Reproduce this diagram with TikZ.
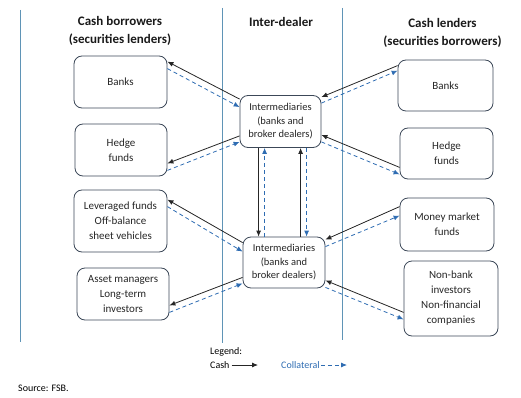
\documentclass[tikz,border=0pt]{standalone}
\usepackage{fontspec}
\setmainfont{Carlito}
\usepackage{xcolor}
\usepackage{tikz}
\usetikzlibrary{arrows.meta}

\definecolor{boxline}{RGB}{60,72,88}
\definecolor{divider}{RGB}{95,148,182}
\definecolor{collat}{RGB}{46,108,178}

\begin{document}
\begin{tikzpicture}[x=1pt,y=-1pt,>={Latex[length=6pt,width=5pt]},
 party/.style={draw=boxline,line width=0.8pt,rounded corners=8pt,align=center,text=black!85,font=\fontsize{11}{15}\selectfont},
 dealer/.style={party,minimum width=81pt,minimum height=52pt,font=\fontsize{10.5}{13.5}\selectfont},
 head/.style={align=center,text=black!90,font=\fontsize{13}{18}\selectfont\bfseries},
 cash/.style={->,black!85,line width=0.8pt},
 collateral/.style={->,collat,line width=0.8pt,dash pattern=on 4pt off 3pt}]
 \useasboundingbox (0,0) rectangle (521,398);

 \draw[divider,line width=0.6pt] (20,10) -- (20,342) (222,8) -- (222,343) (342,8) -- (342,340);

 \node[head] (hborrow) at (120,31) {Cash borrowers\\(securities lenders)};
 \node[head] (hdealer) at (281,22) {Inter-dealer};
 \node[head] (hlend) at (442.5,33) {Cash lenders\\(securities borrowers)};

 \node[party,minimum width=93pt,minimum height=52pt] (lbanks) at (120.5,82) {Banks};
 \node[party,minimum width=92pt,minimum height=52pt] (lhedge) at (121,150) {Hedge\\funds};
 \node[party,minimum width=93pt,minimum height=62pt] (llev) at (120.5,221) {Leveraged funds\\Off-balance\\sheet vehicles};
 \node[party,minimum width=92pt,minimum height=52pt] (lasset) at (123,294) {Asset managers\\Long-term\\investors};

 \node[party,minimum width=95pt,minimum height=51pt] (rbanks) at (445.5,85.5) {Banks};
 \node[party,minimum width=93pt,minimum height=51pt] (rhedge) at (446.5,153.5) {Hedge\\funds};
 \node[party,minimum width=94pt,minimum height=53pt] (rmmf) at (447,224.5) {Money market\\funds};
 \node[party,minimum width=94pt,minimum height=75pt] (rnonbank) at (451,298.5) {Non-bank\\investors\\Non-financial\\companies};

 \node[dealer] (itop) at (280.5,121.5) {Intermediaries\\(banks and\\broker dealers)};
 \node[dealer,minimum width=82pt,minimum height=51pt] (ibot) at (284,262.5) {Intermediaries\\(banks and\\broker dealers)};

 \draw[cash] ([yshift=-4pt]itop.north west) -- ([yshift=-6pt]lbanks.north east);
 \draw[collateral] ([yshift=-13pt]lbanks.north east) -- ([yshift=-12pt]itop.north west);
 \draw[cash] ([yshift=12pt]itop.south west) -- ([yshift=13pt]lhedge.south east);
 \draw[collateral] ([yshift=6pt]lhedge.south east) -- ([yshift=6pt]itop.south west);
 \draw[cash] ([yshift=-6pt]rbanks.north west) -- ([yshift=-2pt]itop.north east);
 \draw[collateral] ([yshift=-8pt]itop.north east) -- ([yshift=-11pt]rbanks.north west);
 \draw[cash] ([yshift=12pt]rhedge.south west) -- ([yshift=13pt]itop.south east);
 \draw[collateral] ([yshift=6pt]itop.south east) -- ([yshift=5pt]rhedge.south west);

 \draw[cash] ([yshift=-6pt]ibot.north west) -- ([yshift=-10pt]llev.north east);
 \draw[collateral] ([yshift=-17pt]llev.north east) -- ([yshift=-15pt]ibot.north west);
 \draw[cash] ([yshift=11pt]ibot.south west) -- ([yshift=15pt]lasset.south east);
 \draw[collateral] ([yshift=8pt]lasset.south east) -- ([yshift=5pt]ibot.south west);
 \draw[cash] ([yshift=-9pt]rmmf.north west) -- ([yshift=-3pt]ibot.north east);
 \draw[collateral] ([yshift=-10pt]ibot.north east) -- ([yshift=-18pt]rmmf.north west);
 \draw[cash] ([yshift=24pt]rnonbank.south west) -- ([yshift=8pt]ibot.south east);
 \draw[collateral] ([yshift=1pt]ibot.south east) -- ([yshift=17pt]rnonbank.south west);

 \draw[cash] ([xshift=19pt]itop.south west) -- ([xshift=16pt]ibot.north west);
 \draw[collateral] ([xshift=22pt]ibot.north west) -- ([xshift=25pt]itop.south west);
 \draw[cash] ([xshift=58pt]ibot.north west) -- ([xshift=61pt]itop.south west);
 \draw[collateral] ([xshift=67pt]itop.south west) -- ([xshift=64pt]ibot.north west);

 \node[anchor=west,inner sep=0pt,font=\fontsize{10}{12}\selectfont] (legend) at (210,352) {Legend:};
 \node[anchor=west,inner sep=0pt,font=\fontsize{10}{12}\selectfont] (lcash) at (210,365) {Cash};
 \coordinate (lcashend) at (258,365);
 \draw[cash] ([xshift=2pt]lcash.east) -- (lcashend);
 \node[anchor=west,inner sep=0pt,text=collat,font=\fontsize{10}{12}\selectfont] (lcoll) at (281,365) {Collateral};
 \coordinate (lcollend) at (347,365);
 \draw[collateral] ([xshift=1pt]lcoll.east) -- (lcollend);

 \node[anchor=west,inner sep=0pt,font=\fontsize{10}{12}\selectfont] (source) at (18,388) {Source: FSB.};
\end{tikzpicture}
\end{document}
